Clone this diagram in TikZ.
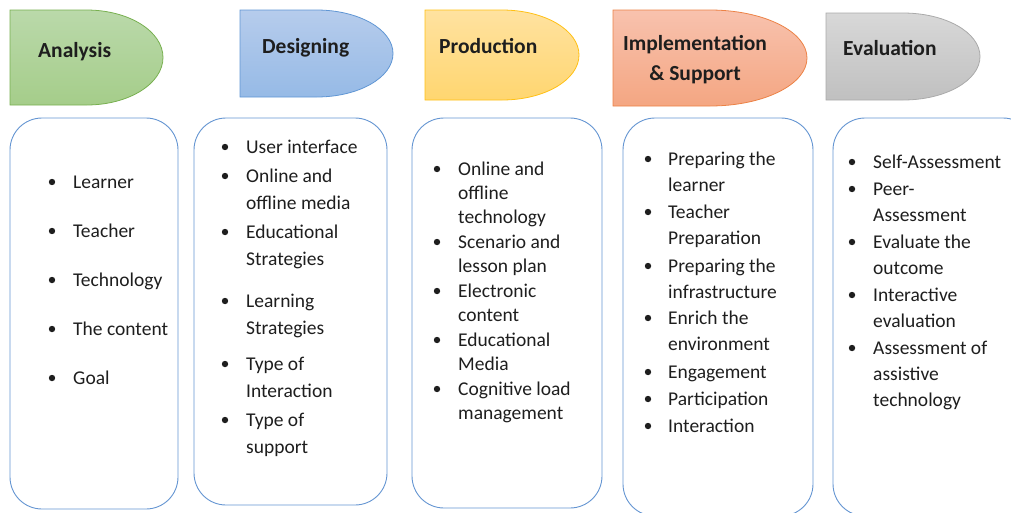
\documentclass[tikz,border=0pt]{standalone}
\usepackage{fontspec}
\setmainfont{Carlito}

\definecolor{txtgray}{RGB}{30,30,30}
\definecolor{boxblue}{RGB}{100,149,210}
\definecolor{topana}{RGB}{186,217,170}\definecolor{botana}{RGB}{165,205,138}\definecolor{lineana}{RGB}{120,176,80}
\definecolor{topdes}{RGB}{182,204,236}\definecolor{botdes}{RGB}{150,186,230}\definecolor{linedes}{RGB}{96,150,212}
\definecolor{toppro}{RGB}{255,226,160}\definecolor{botpro}{RGB}{255,214,112}\definecolor{linepro}{RGB}{255,192,20}
\definecolor{topimp}{RGB}{248,194,174}\definecolor{botimp}{RGB}{244,166,130}\definecolor{lineimp}{RGB}{236,130,70}
\definecolor{topeva}{RGB}{216,216,216}\definecolor{boteva}{RGB}{192,192,192}\definecolor{lineeva}{RGB}{170,170,170}

\tikzset{
    phasebox/.style={draw=boxblue, line width=0.9pt, rounded corners=32pt, fill=white, inner sep=0pt},
    phasetitle/.style={font=\fontsize{21.5}{30}\selectfont\bfseries, text=txtgray, inner sep=0pt},
    itemtext/.style={font={\fontsize{19.5}{#1}\selectfont}, text=txtgray, anchor=base west, inner sep=0pt},
}
\newcommand{\itemlines}[1]{\begin{tabular}[t]{@{}l@{}}#1\end{tabular}}

\begin{document}
\begin{tikzpicture}[x=1pt,y=-1pt]
        \path[use as bounding box] (0,0) rectangle (1011,512);
        \clip (0,0) rectangle (1011,512);

        % phase headers
        \foreach \xa/\ya/\xb/\yb/\col in {10/10/163/105/ana, 240/10/393/97/des, 425/10/579/100/pro, 613/10/807/106/imp, 826/13/980/100/eva}
        {
            \draw[draw=line\col, line width=0.8pt, top color=top\col, bottom color=bot\col]
                (\xa,\ya) -- ({(\xa+\xb)/2},\ya)
                arc[start angle=-90, end angle=90, x radius={(\xb-\xa)/2}, y radius={(\yb-\ya)/2}]
                -- (\xa,\yb) -- cycle;
        }

        \node[phasetitle, anchor=base west] (hana) at (38,57) {Analysis};
        \node[phasetitle, anchor=base west] (hdes) at (262,53) {Designing};
        \node[phasetitle, anchor=base west] (hpro) at (439,53) {Production};
        \node[phasetitle, anchor=base, align=center] (himp) at (695,80) {Implementation\\\& Support};
        \node[phasetitle, anchor=base west] (heva) at (843,55) {Evaluation};

        % content boxes
        \node[phasebox, minimum width=168pt, minimum height=391pt] (bana) at (94,313.5) {};
        \node[phasebox, minimum width=193pt, minimum height=387pt] (bdes) at (290.5,311.5) {};
        \node[phasebox, minimum width=190pt, minimum height=390pt] (bpro) at (507,313) {};
        \node[phasebox, minimum width=190pt, minimum height=398pt] (bimp) at (718,317) {};
        \node[phasebox, minimum width=202pt, minimum height=398pt] (beva) at (934,317) {};

        % items
        \foreach \y/\txt [count=\i] in {188/Learner, 237/Teacher, 286/Technology, 335/The content, 384/Goal}
        {
            \node[itemtext=27] (ana\i) at (73,\y) {\itemlines{\txt}};
            \fill[txtgray] ([xshift=-21pt,yshift=6pt]ana\i.base west) circle (3.2pt);
        }

        \foreach \y/\txt [count=\i] in {153/User interface, 182/Online and\\offline media, 238/Educational\\Strategies,
                                        307/Learning\\Strategies, 370/Type of\\Interaction, 426/Type of\\support}
        {
            \node[itemtext=27.5] (des\i) at (246,\y) {\itemlines{\txt}};
            \fill[txtgray] ([xshift=-21pt,yshift=6pt]des\i.base west) circle (3.2pt);
        }

        \foreach \y/\txt [count=\i] in {175/Online and\\offline\\technology, 248/Scenario and\\lesson plan, 297/Electronic\\content,
                                        346/Educational\\Media, 395/Cognitive load\\management}
        {
            \node[itemtext=24.3] (pro\i) at (458,\y) {\itemlines{\txt}};
            \fill[txtgray] ([xshift=-21pt,yshift=6pt]pro\i.base west) circle (3.2pt);
        }

        \foreach \y/\txt [count=\i] in {165/Preparing the\\learner, 218/Teacher\\Preparation, 272/Preparing the\\infrastructure,
                                        324/Enrich the\\environment, 378/Engagement, 405/Participation, 432/Interaction}
        {
            \node[itemtext=26] (imp\i) at (668,\y) {\itemlines{\txt}};
            \fill[txtgray] ([xshift=-20pt,yshift=6pt]imp\i.base west) circle (3.2pt);
        }

        \foreach \y/\txt [count=\i] in {168/Self-Assessment, 195/Peer-\\Assessment, 248/Evaluate the\\outcome,
                                        301/Interactive\\evaluation, 354/Assessment of\\assistive\\technology}
        {
            \node[itemtext=26] (eva\i) at (873,\y) {\itemlines{\txt}};
            \fill[txtgray] ([xshift=-21pt,yshift=6pt]eva\i.base west) circle (3.2pt);
        }
\end{tikzpicture}
\end{document}
